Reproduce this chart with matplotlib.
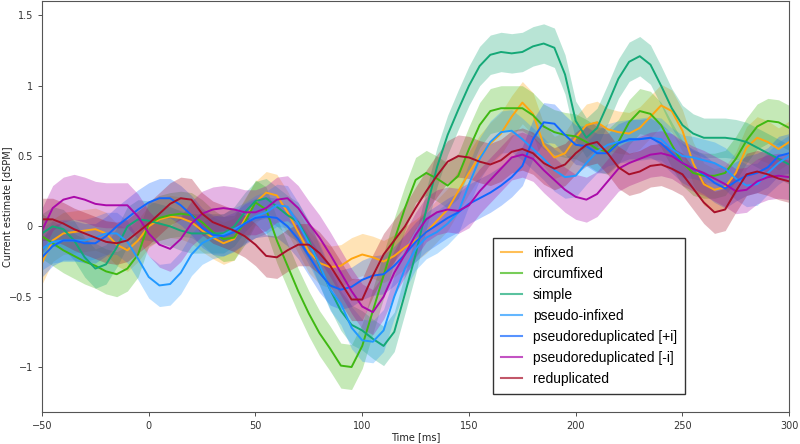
import numpy as np
import matplotlib
matplotlib.use("Agg")
import matplotlib.pyplot as plt
from matplotlib.lines import Line2D

# time axis, every 5 ms from -50 to 300
times = np.arange(-50, 301, 5)

labels = ["infixed", "circumfixed", "simple", "pseudo-infixed",
          "pseudoreduplicated [+i]", "pseudoreduplicated [-i]", "reduplicated"]
colors = ["#ffa510", "#3fb812", "#14a877", "#2299ff", "#1166ff", "#aa0aaa", "#a8102a"]

# mean curves
infixed = [-0.26, -0.10, -0.05, -0.04, -0.03, -0.02, -0.05, -0.13, -0.17, -0.10,
           0.00, 0.05, 0.07, 0.06, 0.03, -0.03, -0.08, -0.12, -0.09, 0.05,
           0.17, 0.24, 0.22, 0.10, -0.04, -0.18, -0.26, -0.29, -0.28, -0.23,
           -0.20, -0.22, -0.25, -0.21, -0.15, -0.10, -0.04, 0.04, 0.12, 0.25,
           0.38, 0.50, 0.59, 0.66, 0.78, 0.88, 0.80, 0.58, 0.49, 0.52,
           0.63, 0.72, 0.74, 0.69, 0.67, 0.66, 0.70, 0.78, 0.86, 0.82,
           0.68, 0.45, 0.30, 0.26, 0.28, 0.38, 0.56, 0.63, 0.60, 0.55,
           0.60]
circumfixed = [-0.07, -0.12, -0.17, -0.21, -0.25, -0.28, -0.32, -0.34, -0.30, -0.20,
               0.02, 0.06, 0.08, 0.09, 0.08, 0.03, -0.04, -0.09, -0.08, 0.03,
               0.17, 0.12, -0.10, -0.28, -0.46, -0.62, -0.76, -0.87, -0.99, -1.00,
               -0.85, -0.60, -0.35, -0.10, 0.13, 0.33, 0.38, 0.34, 0.29, 0.36,
               0.55, 0.72, 0.82, 0.84, 0.84, 0.84, 0.79, 0.71, 0.67, 0.65,
               0.64, 0.60, 0.55, 0.53, 0.60, 0.74, 0.82, 0.80, 0.72, 0.58,
               0.45, 0.38, 0.36, 0.36, 0.38, 0.48, 0.61, 0.71, 0.75, 0.74,
               0.70]
simple = [-0.05, 0.00, -0.02, -0.10, -0.22, -0.30, -0.27, -0.15, 0.00, 0.05,
          0.04, 0.02, 0.00, -0.03, -0.05, -0.05, -0.05, -0.05, 0.00, 0.10,
          0.18, 0.20, 0.14, 0.08, 0.03, -0.10, -0.28, -0.45, -0.60, -0.70,
          -0.74, -0.80, -0.85, -0.75, -0.48, -0.20, 0.12, 0.42, 0.65, 0.83,
          1.00, 1.14, 1.22, 1.24, 1.23, 1.24, 1.28, 1.30, 1.27, 1.08,
          0.75, 0.63, 0.70, 0.87, 1.05, 1.17, 1.21, 1.15, 1.00, 0.84,
          0.72, 0.66, 0.63, 0.63, 0.63, 0.62, 0.60, 0.56, 0.52, 0.48,
          0.44]
pseudo_infixed = [-0.16, -0.11, -0.10, -0.10, -0.10, -0.08, -0.05, -0.05, -0.11, -0.23,
                  -0.36, -0.42, -0.41, -0.33, -0.20, -0.12, -0.08, -0.06, -0.02, 0.02,
                  0.07, 0.10, 0.15, 0.14, 0.02, -0.12, -0.27, -0.45, -0.55, -0.72,
                  -0.81, -0.82, -0.74, -0.50, -0.30, -0.16, -0.08, -0.04, 0.02, 0.10,
                  0.30, 0.48, 0.60, 0.67, 0.68, 0.62, 0.55, 0.48, 0.40, 0.35,
                  0.36, 0.45, 0.53, 0.58, 0.60, 0.61, 0.62, 0.63, 0.62, 0.55,
                  0.50, 0.49, 0.47, 0.45, 0.41, 0.34, 0.29, 0.30, 0.38, 0.45,
                  0.50]
pseudored_plus_i = [-0.22, -0.14, -0.10, -0.10, -0.12, -0.12, -0.07, 0.00, 0.06, 0.12,
                    0.17, 0.20, 0.20, 0.15, 0.08, -0.01, -0.06, -0.07, -0.04, 0.02,
                    0.06, 0.07, 0.06, 0.00, -0.09, -0.21, -0.33, -0.42, -0.45, -0.43,
                    -0.38, -0.35, -0.34, -0.28, -0.20, -0.11, -0.04, 0.01, 0.06, 0.10,
                    0.16, 0.20, 0.24, 0.29, 0.35, 0.43, 0.62, 0.74, 0.73, 0.65,
                    0.58, 0.57, 0.52, 0.52, 0.59, 0.62, 0.62, 0.63, 0.59, 0.52,
                    0.45, 0.41, 0.37, 0.31, 0.27, 0.32, 0.36, 0.38, 0.42, 0.50,
                    0.52]
pseudored_minus_i = [-0.03, 0.13, 0.19, 0.21, 0.19, 0.16, 0.15, 0.15, 0.15, 0.07,
                     -0.05, -0.13, -0.16, -0.09, 0.02, 0.09, 0.12, 0.13, 0.12, 0.10,
                     0.10, 0.13, 0.19, 0.20, 0.13, 0.02, -0.08, -0.20, -0.33, -0.46,
                     -0.57, -0.61, -0.50, -0.33, -0.20, -0.06, 0.05, 0.10, 0.12, 0.11,
                     0.15, 0.25, 0.33, 0.41, 0.49, 0.51, 0.48, 0.40, 0.33, 0.26,
                     0.21, 0.19, 0.23, 0.32, 0.41, 0.45, 0.48, 0.51, 0.52, 0.50,
                     0.45, 0.41, 0.38, 0.34, 0.30, 0.25, 0.26, 0.32, 0.35, 0.36,
                     0.35]
reduplicated = [0.05, 0.05, 0.02, -0.02, -0.05, -0.08, -0.11, -0.12, -0.10, -0.04,
                0.02, 0.09, 0.16, 0.20, 0.19, 0.09, 0.03, 0.00, -0.03, -0.07,
                -0.13, -0.21, -0.22, -0.17, -0.13, -0.13, -0.19, -0.28, -0.40, -0.52,
                -0.52, -0.35, -0.20, -0.10, 0.00, 0.13, 0.25, 0.36, 0.46, 0.50,
                0.49, 0.46, 0.44, 0.47, 0.53, 0.55, 0.52, 0.45, 0.41, 0.44,
                0.52, 0.58, 0.60, 0.52, 0.42, 0.37, 0.39, 0.43, 0.44, 0.41,
                0.37, 0.27, 0.17, 0.10, 0.12, 0.25, 0.37, 0.39, 0.37, 0.34,
                0.32]

# half width of the shaded band for each condition
band = [0.15, 0.16, 0.14, 0.15, 0.14, 0.16, 0.15]

series = [infixed, circumfixed, simple, pseudo_infixed,
          pseudored_plus_i, pseudored_minus_i, reduplicated]

fig = plt.figure(figsize=(8, 4.44), dpi=100)
ax = fig.add_axes([0.0525, 0.072, 0.934, 0.925])

for vals, hw, col in zip(series, band, colors):
    vals = np.array(vals)
    ax.fill_between(times, vals - hw, vals + hw, color=col, alpha=0.3, linewidth=0)
    ax.plot(times, vals, color=col, linewidth=1.4)

ax.set_xlim(-50, 300)
ax.set_ylim(-1.32, 1.6)
ax.set_xticks([-50, 0, 50, 100, 150, 200, 250, 300])
ax.set_yticks([-1, -0.5, 0, 0.5, 1, 1.5])
ax.set_yticklabels(["\u22121", "\u22120.5", "0", "0.5", "1", "1.5"])
ax.tick_params(labelsize=7, length=3, width=0.6, colors="#333333")
for s in ax.spines.values():
    s.set_color("#555555")
    s.set_linewidth(0.8)

ax.set_xlabel("Time [ms]", fontsize=7, labelpad=1, color="#222222")
ax.set_ylabel("Current estimate [dSPM]", fontsize=7, color="#222222")
ax.yaxis.set_label_coords(-0.04, 0.5)

# legend with faded handles
handles = [Line2D([], [], color=c, linewidth=1.5, alpha=0.7) for c in colors]
leg = ax.legend(handles, labels, loc="lower left", bbox_to_anchor=(0.603, 0.044),
                borderaxespad=0, prop={"family": "Liberation Sans", "size": 10},
                handlelength=1.5, fancybox=False, framealpha=1,
                edgecolor="#333333", borderpad=0.6)
leg.get_frame().set_linewidth(1.0)

plt.savefig("out.png", dpi=100)
